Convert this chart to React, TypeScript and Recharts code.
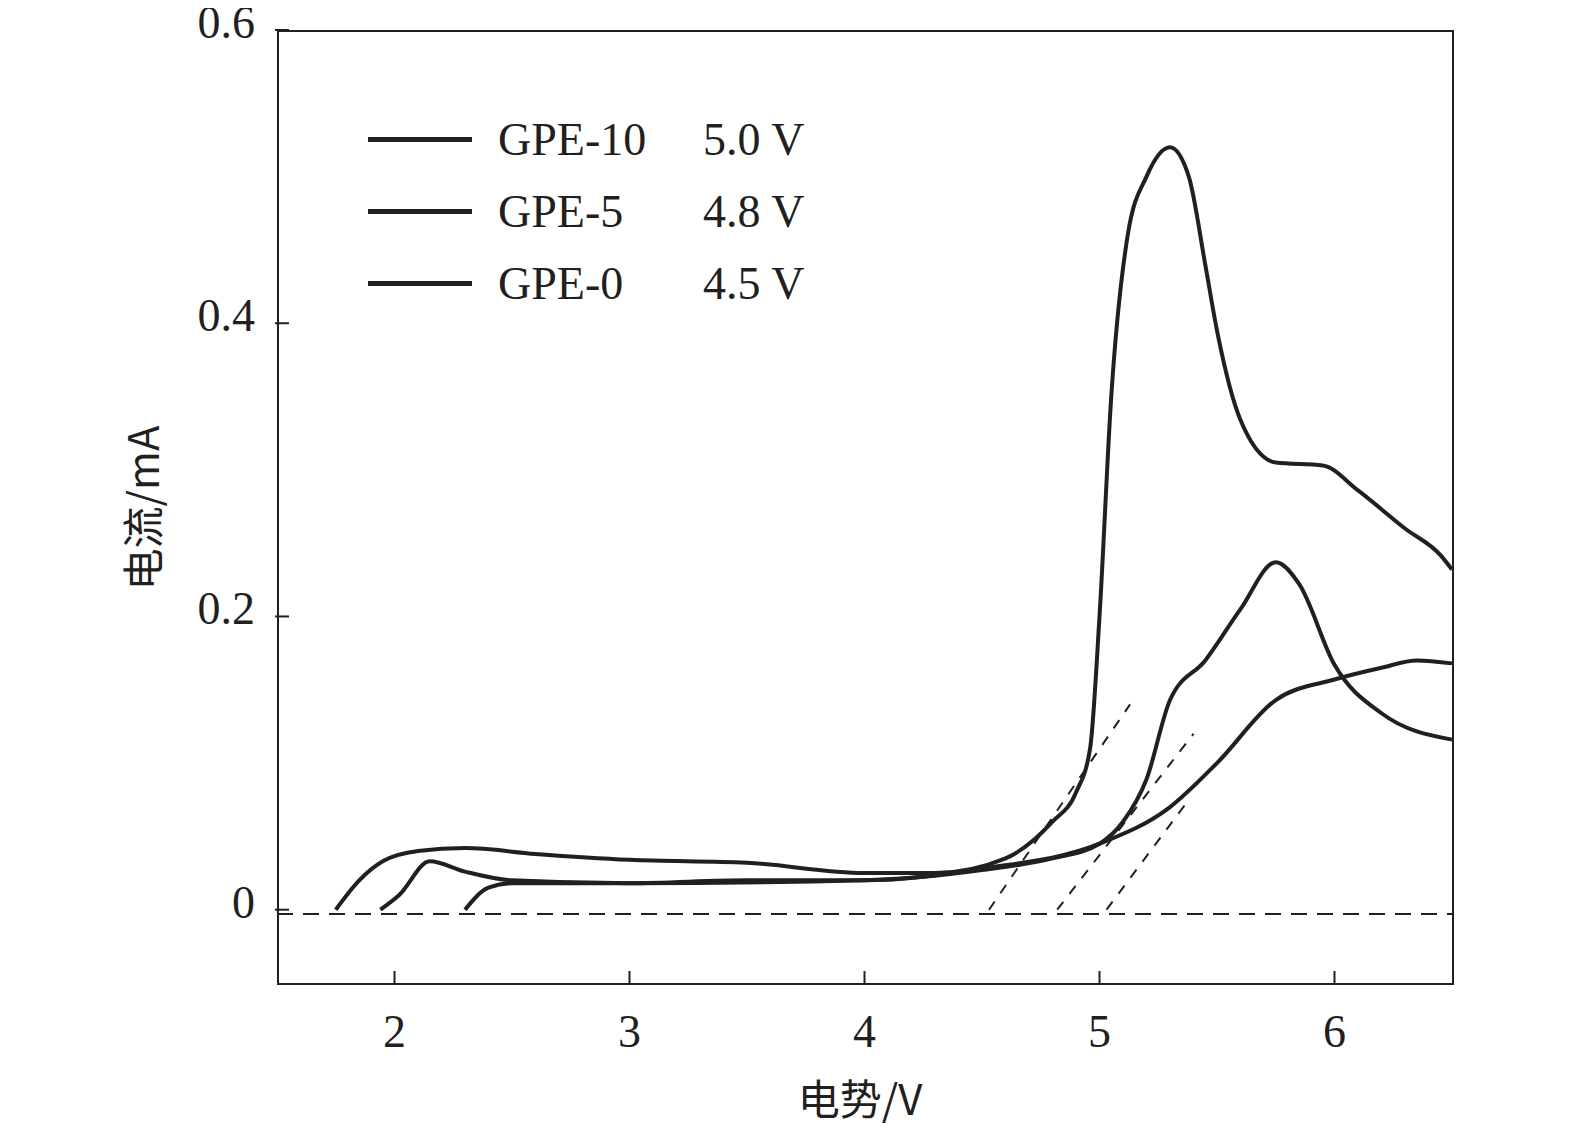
import React from 'react';
import { ComposedChart, Line, XAxis, YAxis, ReferenceLine } from 'recharts';

const xTicks = [2, 3, 4, 5, 6];
const yTicks = [0, 0.2, 0.4, 0.6];

const gpe10 = [
  { v: 1.75, i: 0 }, { v: 1.85, i: 0.02 }, { v: 1.95, i: 0.033 }, { v: 2.1, i: 0.04 },
  { v: 2.3, i: 0.042 }, { v: 2.6, i: 0.038 }, { v: 3.0, i: 0.034 }, { v: 3.5, i: 0.032 },
  { v: 4.0, i: 0.025 }, { v: 4.3, i: 0.025 }, { v: 4.6, i: 0.035 }, { v: 4.8, i: 0.06 },
  { v: 4.9, i: 0.08 }, { v: 4.96, i: 0.11 }, { v: 5.0, i: 0.2 }, { v: 5.05, i: 0.35 },
  { v: 5.12, i: 0.46 }, { v: 5.2, i: 0.5 }, { v: 5.3, i: 0.52 }, { v: 5.38, i: 0.5 },
  { v: 5.45, i: 0.44 }, { v: 5.5, i: 0.395 }, { v: 5.6, i: 0.334 }, { v: 5.75, i: 0.305 },
  { v: 5.95, i: 0.303 }, { v: 6.1, i: 0.286 }, { v: 6.3, i: 0.26 }, { v: 6.45, i: 0.242 },
  { v: 6.5, i: 0.232 },
];
const gpe5 = [
  { v: 1.94, i: 0 }, { v: 2.02, i: 0.01 }, { v: 2.15, i: 0.033 }, { v: 2.3, i: 0.026 },
  { v: 2.5, i: 0.02 }, { v: 3.0, i: 0.018 }, { v: 4.0, i: 0.02 }, { v: 4.5, i: 0.027 },
  { v: 4.8, i: 0.035 }, { v: 5.0, i: 0.045 }, { v: 5.1, i: 0.06 }, { v: 5.2, i: 0.089 },
  { v: 5.3, i: 0.143 }, { v: 5.45, i: 0.17 }, { v: 5.6, i: 0.205 }, { v: 5.75, i: 0.237 },
  { v: 5.85, i: 0.222 }, { v: 6.0, i: 0.167 }, { v: 6.2, i: 0.134 }, { v: 6.5, i: 0.116 },
];
const gpe0 = [
  { v: 2.3, i: 0 }, { v: 2.4, i: 0.015 }, { v: 2.5, i: 0.018 }, { v: 3.0, i: 0.018 },
  { v: 3.5, i: 0.02 }, { v: 4.0, i: 0.02 }, { v: 4.5, i: 0.028 }, { v: 5.0, i: 0.045 },
  { v: 5.3, i: 0.07 }, { v: 5.5, i: 0.1 }, { v: 5.75, i: 0.143 }, { v: 6.0, i: 0.157 },
  { v: 6.2, i: 0.165 }, { v: 6.35, i: 0.17 }, { v: 6.5, i: 0.168 },
];
const tan10 = [{ v: 4.53, i: 0 }, { v: 5.13, i: 0.14 }];
const tan5 = [{ v: 4.82, i: 0 }, { v: 5.4, i: 0.12 }];
const tan0 = [{ v: 5.03, i: 0 }, { v: 5.38, i: 0.075 }];

const legendNames = ['GPE-10', 'GPE-5', 'GPE-0'];
const legendVolts = ['5.0 V', '4.8 V', '4.5 V'];

const serif = '"Liberation Serif", "DejaVu Serif", serif';
const cjk = '"Noto Sans CJK SC", sans-serif';
const ink = '#231f20';

const XTick = (p: any) => (
  <g>
    <line x1={p.x} y1={p.y} x2={p.x} y2={p.y - 14} stroke={ink} strokeWidth={2} />
    <text x={p.x} y={p.y + 62} textAnchor="middle" fontFamily={serif} fontSize={46} fill={ink}>
      {p.payload.value}
    </text>
  </g>
);
const YTick = (p: any) => (
  <g>
    <line x1={p.x} y1={p.y} x2={p.x + 14} y2={p.y} stroke={ink} strokeWidth={2} />
    <text x={p.x - 20} y={p.y + 8} textAnchor="end" fontFamily={serif} fontSize={46} fill={ink}>
      {p.payload.value === 0 ? '0' : Number(p.payload.value).toFixed(1)}
    </text>
  </g>
);

const curve = (data: any[], key: string) => (
  <Line key={key} data={data} dataKey="i" type="monotone" stroke={ink} strokeWidth={4}
    dot={false} isAnimationActive={false} />
);
const tangent = (data: any[], key: string) => (
  <Line key={key} data={data} dataKey="i" type="linear" stroke={ink} strokeWidth={2}
    strokeDasharray="10 10" dot={false} isAnimationActive={false} />
);

export default function App() {
  return (
    <div style={{ position: 'relative', width: 1560, height: 1120 }}>
      <ComposedChart width={1560} height={1120}
        margin={{ top: 22, right: 116, left: 189, bottom: 85 }}>
        <XAxis type="number" dataKey="v" domain={[1.5, 6.5]} ticks={xTicks} height={60}
          axisLine={false} tickLine={false} tickSize={0} tick={<XTick />} allowDuplicatedCategory={false} />
        <YAxis type="number" dataKey="i" domain={[-0.05, 0.6]} ticks={yTicks} width={80}
          axisLine={false} tickLine={false} tickSize={0} tick={<YTick />} />
        <ReferenceLine y={-0.003} stroke={ink} strokeWidth={2} strokeDasharray="16 10" />
        {tangent(tan10, 't10')}
        {tangent(tan5, 't5')}
        {tangent(tan0, 't0')}
        {curve(gpe0, 'g0')}
        {curve(gpe5, 'g5')}
        {curve(gpe10, 'g10')}
      </ComposedChart>
      <div style={{ position: 'absolute', left: 269, top: 22, width: 1173, height: 951,
        border: `2px solid ${ink}`, pointerEvents: 'none' }} />
      {legendNames.map((n, k) => (
        <div key={n} style={{ position: 'absolute', left: 360, top: 106 + k * 72, height: 50,
          display: 'flex', alignItems: 'center', fontFamily: serif, fontSize: 46, color: ink }}>
          <div style={{ width: 104, height: 5, background: ink, marginRight: 26 }} />
          <span style={{ width: 205 }}>{n}</span>
          <span>{legendVolts[k]}</span>
        </div>
      ))}
      <div style={{ position: 'absolute', left: 132, top: 500, width: 200, textAlign: 'center',
        transform: 'translate(-50%, -50%) rotate(-90deg)', fontFamily: cjk, fontSize: 42, color: ink,
        whiteSpace: 'nowrap' }}>
        电流/mA
      </div>
      <div style={{ position: 'absolute', left: 752, top: 1088, width: 200, textAlign: 'center',
        transform: 'translateY(-50%)', fontFamily: cjk, fontSize: 42, color: ink, whiteSpace: 'nowrap' }}>
        电势/V
      </div>
    </div>
  );
}
